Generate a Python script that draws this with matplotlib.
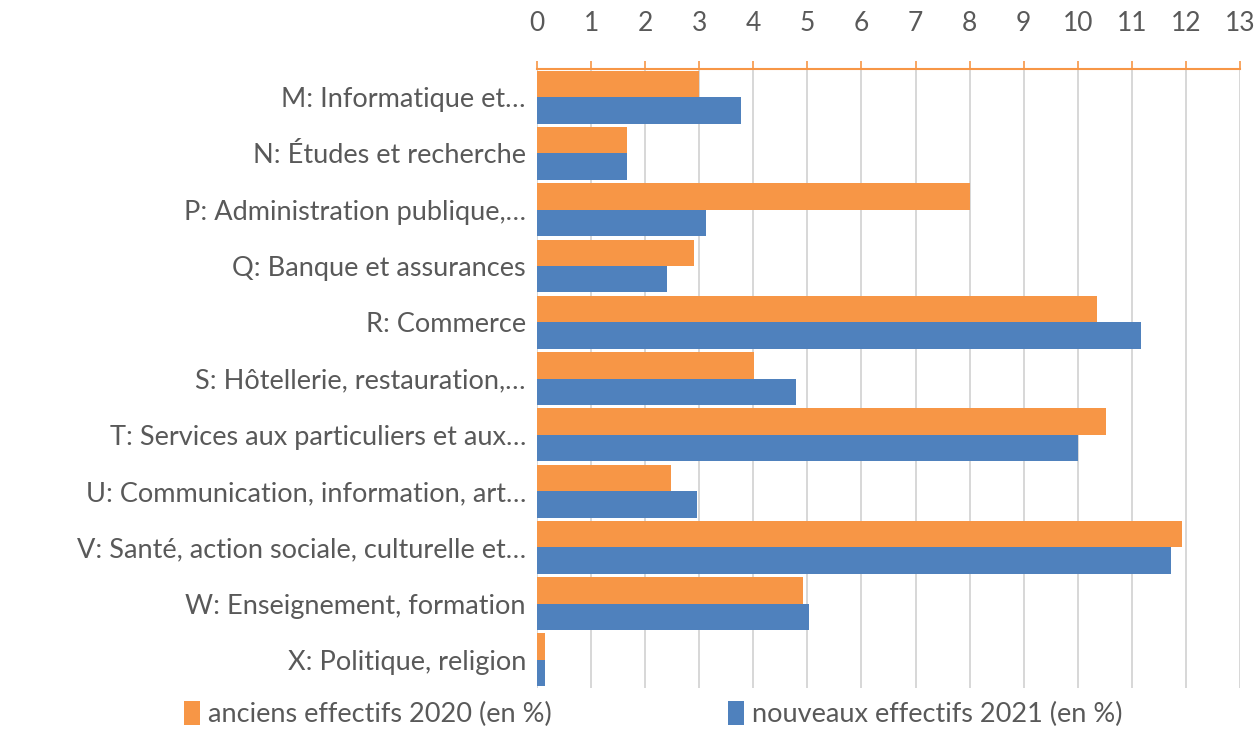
import matplotlib.pyplot as plt
import numpy as np

# secteurs (de haut en bas)
categories = [
    "M: Informatique et…",
    "N: Études et recherche",
    "P: Administration publique,…",
    "Q: Banque et assurances",
    "R: Commerce",
    "S: Hôtellerie, restauration,…",
    "T: Services aux particuliers et aux…",
    "U: Communication, information, art…",
    "V: Santé, action sociale, culturelle et…",
    "W: Enseignement, formation",
    "X: Politique, religion",
]
anciens_2020 = [3.0, 1.66, 8.0, 2.91, 10.35, 4.02, 10.52, 2.47, 11.92, 4.92, 0.15]
nouveaux_2021 = [3.78, 1.66, 3.12, 2.41, 11.17, 4.78, 10.01, 2.96, 11.72, 5.03, 0.15]
xticks = list(range(0, 14))

ORANGE = '#F79646'
BLUE = '#4F81BD'
TEXT = '#595959'

plt.rcParams['font.family'] = ['Lato', 'DejaVu Sans']

fig = plt.figure(figsize=(12.58, 7.30), dpi=100)
ax = fig.add_axes([0.4269, 0.0575, 0.5588, 0.848])

y = np.arange(len(categories))
h = 0.47
ax.barh(y - h / 2, anciens_2020, h, color=ORANGE, label='anciens effectifs 2020 (en %)', zorder=3)
ax.barh(y + h / 2, nouveaux_2021, h, color=BLUE, label='nouveaux effectifs 2021 (en %)', zorder=3)

ax.set_xlim(0, 13)
ax.set_ylim(len(categories) - 0.5, -0.5)
ax.set_xticks(xticks)
ax.set_yticks(y)
ax.set_yticklabels(categories, fontsize=19.5, color=TEXT)

ax.xaxis.tick_top()
ax.tick_params(axis='x', colors=ORANGE, labelcolor=TEXT, labelsize=19,
               length=6, width=1.2, direction='out', pad=18)
ax.tick_params(axis='y', length=0, pad=8)

for s in ['bottom', 'left', 'right']:
    ax.spines[s].set_visible(False)
ax.spines['top'].set_color(ORANGE)
ax.spines['top'].set_linewidth(1.5)

ax.grid(True, axis='x', color='#d4d4d4', linewidth=1.3, zorder=0)
ax.set_axisbelow(True)

ax.legend(loc='upper center', bbox_to_anchor=(0.165, -0.003), ncol=2, frameon=False,
          fontsize=19.5, labelcolor=TEXT, handlelength=0.6, handleheight=1.0,
          handletextpad=0.3, columnspacing=6.5, borderaxespad=0)

fig.savefig('out.png', dpi=100)
